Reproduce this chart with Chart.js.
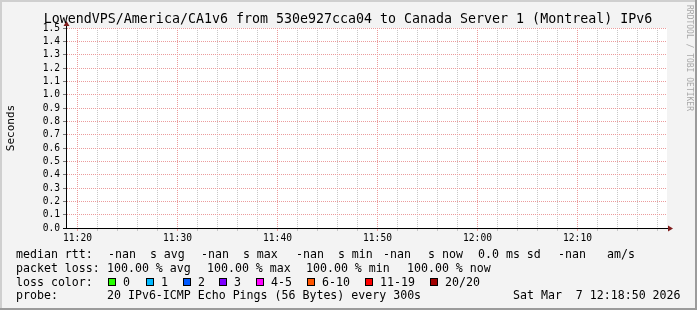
<!DOCTYPE html>
<html>
<head>
<meta charset="utf-8">
<script src="https://cdn.jsdelivr.net/npm/chart.js@4"></script>
<style>
  html, body { margin: 0; padding: 0; background: #f3f3f3; }
  canvas { display: block; }
</style>
</head>
<body>
<canvas id="smoke" width="697" height="310"></canvas>
<script>
const title = "LowendVPS/America/CA1v6 from 530e927cca04 to Canada Server 1 (Montreal) IPv6";
const yTitle = "Seconds";
const watermark = "RRDTOOL / TOBI OETIKER";

// time window (hh:mm:ss), one hour ending at graph time
const windowStart = "11:18:57";
const windowEnd = "12:18:57";
const timeLabels = ["11:20", "11:30", "11:40", "11:50", "12:00", "12:10"];
const yMax = 1.5;
const yStep = 0.1;

// 5 minute probe steps, every median lost (100% loss)
const pingTimes = ["11:20", "11:25", "11:30", "11:35", "11:40", "11:45", "11:50", "11:55", "12:00", "12:05", "12:10", "12:15"];
const medianRtt = [null, null, null, null, null, null, null, null, null, null, null, null];

const lossLabels = ["0", "1", "2", "3", "4-5", "6-10", "11-19", "20/20"];
const lossColors = ["#26ff00", "#00b8ff", "#0059ff", "#7e00ff", "#ff00ff", "#ff5500", "#ff0000", "#a10000"];

const rttLine = [[16, "median rtt:"], [108, "-nan  s avg"], [201, "-nan  s max"], [296, "-nan  s min"],
                 [383, "-nan"], [428, "s now"], [478, "0.0 ms sd"], [558, "-nan"], [607, "am/s"]];
const lossLine = [[16, "packet loss:"], [107, "100.00 % avg"], [207, "100.00 % max"], [306, "100.00 % min"], [407, "100.00 % now"]];
const lossBoxX = [108, 146, 183, 219, 256, 307, 365, 430];
const probeLine = [[16, "probe:"], [107, "20 IPv6-ICMP Echo Pings (56 Bytes) every 300s"], [513, "Sat Mar  7 12:18:50 2026"]];

function toMin(t) {
  const p = t.split(":").map(Number);
  return p[0] * 60 + p[1] + (p[2] || 0) / 60;
}

const MONO = "'DejaVu Sans Mono', monospace";
const majorMins = timeLabels.map(toMin);
const MGRID = "#eb9c9c";
const GRID = "#c8c8c8";

const rrdLook = {
  id: "rrdLook",
  beforeDraw(chart) {
    const c = chart.ctx, a = chart.chartArea;
    c.save();
    c.fillStyle = "#f3f3f3";
    c.fillRect(0, 0, 697, 310);
    c.fillStyle = "#cfcfcf";
    c.fillRect(0, 0, 697, 2);
    c.fillRect(0, 0, 2, 310);
    c.fillStyle = "#9b9b9b";
    c.fillRect(695, 0, 2, 310);
    c.fillRect(0, 308, 697, 2);
    c.fillStyle = "#ffffff";
    c.fillRect(a.left, a.top, a.right - a.left, a.bottom - a.top);
    c.restore();
  },
  afterDraw(chart) {
    const c = chart.ctx, a = chart.chartArea;
    c.save();
    // axes
    c.strokeStyle = "#000";
    c.lineWidth = 1;
    c.beginPath();
    c.moveTo(a.left - 0.5, a.top - 4);
    c.lineTo(a.left - 0.5, a.bottom + 1);
    c.moveTo(a.left - 4, a.bottom + 0.5);
    c.lineTo(a.right + 2, a.bottom + 0.5);
    c.stroke();
    c.fillStyle = "#7f1d1d";
    c.beginPath();
    c.moveTo(a.left - 0.5, a.top - 7);
    c.lineTo(a.left - 3.5, a.top - 2);
    c.lineTo(a.left + 2.5, a.top - 2);
    c.closePath();
    c.fill();
    c.beginPath();
    c.moveTo(a.right + 6, a.bottom + 0.5);
    c.lineTo(a.right + 1, a.bottom - 2.5);
    c.lineTo(a.right + 1, a.bottom + 3.5);
    c.closePath();
    c.fill();

    // title
    c.fillStyle = "#000";
    c.font = "13.3px " + MONO;
    c.textAlign = "center";
    c.textBaseline = "middle";
    c.fillText(title, 348, 19.5);

    // vertical unit label
    c.save();
    c.translate(11, (a.top + a.bottom) / 2);
    c.rotate(-Math.PI / 2);
    c.font = "11px " + MONO;
    c.fillText(yTitle, 0, 0);
    c.restore();

    // watermark
    c.save();
    c.translate(689, 5);
    c.rotate(Math.PI / 2);
    c.font = "8px " + MONO;
    c.fillStyle = "#a8a8a8";
    c.textAlign = "left";
    c.fillText(watermark, 0, 0);
    c.restore();

    // legend
    c.font = "11.6px " + MONO;
    c.textAlign = "left";
    c.fillStyle = "#000";
    const row = (items, y) => items.forEach(([x, s]) => c.fillText(s, x, y));
    row(rttLine, 254.5);
    row(lossLine, 268.5);
    c.fillText("loss color:", 16, 282.5);
    lossLabels.forEach((lab, i) => {
      const x = lossBoxX[i];
      c.fillStyle = lossColors[i];
      c.fillRect(x, 278, 8, 8);
      c.strokeStyle = "#000";
      c.strokeRect(x + 0.5, 278.5, 7, 7);
      c.fillStyle = "#000";
      c.fillText(lab, x + 15, 282.5);
    });
    row(probeLine, 296);
    c.restore();
  }
};

new Chart(document.getElementById("smoke"), {
  type: "line",
  data: {
    datasets: [{
      label: "median rtt",
      data: pingTimes.map((t, i) => ({ x: toMin(t), y: medianRtt[i] })),
      borderColor: "#202020",
      borderWidth: 1,
      pointRadius: 0,
      spanGaps: false
    }]
  },
  options: {
    responsive: false,
    animation: false,
    devicePixelRatio: 1,
    layout: { padding: { top: 28, right: 30, bottom: 0, left: 0 } },
    plugins: { legend: { display: false }, title: { display: false }, tooltip: { enabled: false } },
    scales: {
      x: {
        type: "linear",
        min: toMin(windowStart),
        max: toMin(windowEnd),
        afterFit: s => { s.height = 82; },
        afterBuildTicks: s => {
          const t = [];
          for (let m = Math.ceil(s.min / 2) * 2; m <= s.max; m += 2) t.push({ value: m });
          s.ticks = t;
        },
        border: { display: false, dash: [1, 1] },
        grid: {
          color: ctx => (ctx.tick && majorMins.includes(ctx.tick.value)) ? MGRID : GRID,
          lineWidth: 1,
          tickLength: 3,
          tickBorderDash: []
        },
        ticks: {
          autoSkip: false,
          maxRotation: 0,
          padding: 2,
          color: "#000",
          font: { family: MONO, size: 9.6 },
          callback: v => {
            const i = majorMins.indexOf(v);
            return i >= 0 ? timeLabels[i] : "";
          }
        }
      },
      y: {
        min: 0,
        max: yMax,
        afterFit: s => { s.width = 67; },
        border: { display: false, dash: [1, 1] },
        grid: {
          color: MGRID,
          lineWidth: 1,
          tickLength: 4,
          tickColor: "#777",
          tickBorderDash: []
        },
        ticks: {
          stepSize: yStep,
          autoSkip: false,
          padding: 3,
          color: "#000",
          font: { family: MONO, size: 9.6 },
          callback: v => v.toFixed(1)
        }
      }
    }
  },
  plugins: [rrdLook]
});
</script>
</body>
</html>
